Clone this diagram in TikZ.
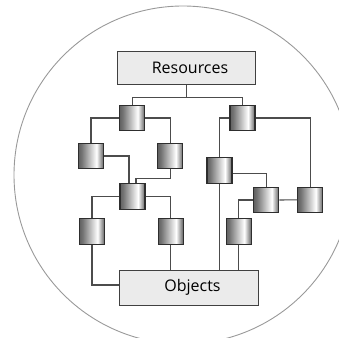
\documentclass[tikz,border=0pt]{standalone}
\usepackage{fontspec}
\setmainfont{Open Sans}
\pgfdeclarehorizontalshading{boxshade}{100bp}{color(0bp)=(black!62); color(25bp)=(black!62); color(31bp)=(black!55); color(61bp)=(white); color(75bp)=(black!62); color(100bp)=(black!62)}
\begin{document}
\begin{tikzpicture}[x=1pt,y=-1pt,
  blk/.style={draw=black!82, line width=1.1pt, shading=boxshade, minimum width=25pt, minimum height=25.5pt, inner sep=0pt},
  big/.style={draw=black!75, fill=black!8, line width=1pt, inner sep=0pt, font=\fontsize{16}{19}\selectfont},
  wire/.style={draw=black!70, line width=1.1pt}]
\useasboundingbox (0,0) rectangle (339,337);
\begin{scope}
\clip (0,0) rectangle (339,337);
\draw[black!40, line width=0.9pt] (183,175) circle (169);
\end{scope}
% big boxes
\node[big, minimum width=138pt, minimum height=33pt] (res) at (186.5,67.5) {\hspace*{7pt}Resources};
\node[big, minimum width=139pt, minimum height=35pt] (obj) at (189,287.5) {\hspace*{7pt}Objects};
% small blocks
\node[blk] (A) at (132.2,118) {};
\node[blk] (B) at (242.5,118) {};
\node[blk] (C) at (91,156) {};
\node[blk] (D) at (170.4,156) {};
\node[blk] (E) at (132.5,196.3) {};
\node[blk] (F) at (92,231.6) {};
\node[blk] (G) at (170.6,231.6) {};
\node[blk] (H) at (219.5,170.3) {};
\node[blk] (I) at (266.3,200) {};
\node[blk] (J) at (310.3,199.8) {};
\node[blk] (K) at (238.8,231.6) {};
% wires
\draw[wire] (res.south) -- ++(0,13) coordinate (rj);
\draw[wire] (A.north) |- (rj) -| (B.north);
\draw[wire] (A.west) -| (C.north);
\draw[wire] (A.east) -| (D.north);
\draw[wire] (C.east) -| ([xshift=-3.5pt]E.north);
\draw[wire] (D.south) -- ++(0,9.5) -| ([xshift=3.5pt]E.north);
\draw[wire] (E.west) -| (F.north);
\draw[wire] (E.east) -| (G.north);
\draw[wire] (F.south) |- ([yshift=2.5pt]obj.west);
\draw[wire] (G.south) -- (G.south |- obj.north);
\draw[wire] (B.west) -| (H.north);
\draw[wire] (H.south) -- (H.south |- obj.north);
\draw[wire] (B.east) -| (J.north);
\draw[wire] ([yshift=-3.5pt]H.east) -| (I.north);
\draw[wire] (I.east) -- (J.west);
\draw[wire] (I.west) -| (K.north);
\draw[wire] (K.south) -- (K.south |- obj.north);
\end{tikzpicture}
\end{document}
